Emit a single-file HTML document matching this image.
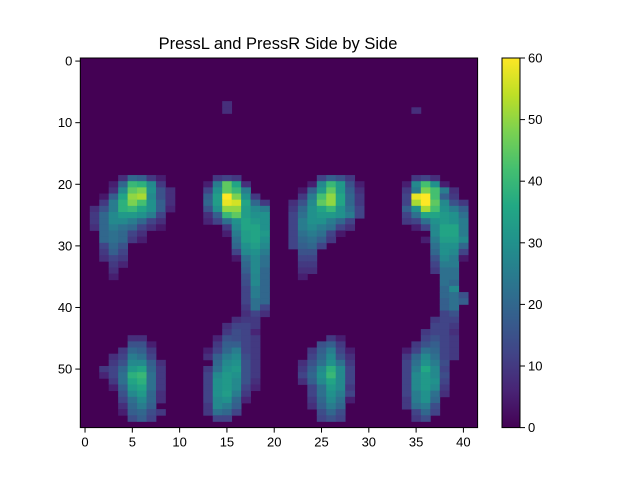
<!DOCTYPE html>
<html><head><meta charset="utf-8"><style>
body{margin:0;background:#fff;}
svg text{font-family:"Liberation Sans",sans-serif;}
</style></head><body>
<svg id="chart" width="640" height="480" viewBox="0 0 640 480" xmlns="http://www.w3.org/2000/svg">
<rect width="640" height="480" fill="#fff"/>
<text x="278" y="49" font-size="16.5" text-anchor="middle">PressL and PressR Side by Side</text>
<g id="cells"></g>
<g id="axes"></g>
<g id="cbar"></g>
</svg>
<script>
const nRows = 60;
const nCols = 42;
const vMax = 60;
const xTickValues = [0,5,10,15,20,25,30,35,40];
const yTickValues = [0,10,20,30,40,50];
const cbarTickValues = [0,10,20,30,40,50,60];
// sparse runs: [row, startCol, values]
const cellRuns = [
[7,15,[8]],[8,15,[8]],[8,35,[8]],
[19,4,[8,20,18,10,5]],[19,14,[10,12,10]],[19,25,[12,18,15,10]],[19,35,[10,12,8]],
[20,3,[5,20,40,38,28,10]],[20,13,[5,25,45,35,8]],[20,24,[5,28,40,32,15,5]],[20,34,[5,28,42,30,5]],
[21,3,[8,28,45,48,30,15,8]],[21,13,[12,30,45,40,25]],[21,23,[4,18,32,45,32,18,8]],[21,34,[10,25,48,42,25,8]],
[22,2,[4,18,35,50,52,28,15,8]],[22,13,[18,33,60,48,30,10]],[22,23,[10,25,42,50,35,20,10]],[22,34,[12,58,60,42,18,10]],
[23,2,[10,25,38,48,42,30,18,8]],[23,13,[20,33,58,56,35,20,10]],[23,22,[8,15,28,45,50,35,20,10]],[23,34,[12,52,60,45,28,15,10]],
[24,1,[8,15,25,38,40,35,30,18,6]],[24,13,[15,30,50,50,33,28,25]],[24,22,[10,20,30,35,40,30,22,12]],[24,34,[18,30,52,42,30,25,18]],
[25,1,[10,20,28,32,32,30,25,12]],[25,13,[8,18,40,45,33,30,30]],[25,22,[12,22,30,32,32,30,25,12]],[25,34,[12,22,35,35,32,30,22]],
[26,1,[10,20,28,28,25,20,12,8]],[26,13,[6,12,22,30,35,32,30]],[26,22,[12,25,30,30,25,20,12]],[26,34,[10,12,22,30,32,30,25]],
[27,1,[8,20,25,22,20,12,8,4]],[27,15,[10,28,35,35,30]],[27,22,[12,25,28,25,22,12,8]],[27,35,[5,12,28,35,35,25]],
[28,2,[20,22,20,12,8]],[28,15,[5,25,33,35,32]],[28,22,[12,22,25,22,12,4]],[28,37,[28,35,35,25]],
[29,2,[20,22,20,10,5]],[29,16,[22,33,35,30]],[29,22,[12,20,22,18,10]],[29,36,[5,25,33,33,28]],
[30,2,[12,20,15]],[30,16,[20,30,33,28]],[30,22,[12,18,20,12]],[30,37,[22,30,30,20]],
[31,2,[10,18,12]],[31,16,[12,28,30,25]],[31,23,[15,15]],[31,37,[20,30,28,12]],
[32,2,[8,12,10]],[32,16,[4,22,28,22]],[32,23,[12,12]],[32,37,[15,28,25,4]],
[33,3,[10,6]],[33,17,[20,28,22]],[33,23,[10,10]],[33,37,[12,25,25]],
[34,3,[8]],[34,17,[18,28,20]],[34,23,[8,8]],[34,37,[10,22,22]],
[35,3,[5]],[35,17,[15,27,20]],[35,23,[5]],[35,38,[22,22]],
[36,17,[14,28,20]],[36,38,[22,20]],
[37,17,[12,25,20]],[37,38,[20,28]],
[38,17,[12,25,20]],[38,38,[20,22,15]],
[39,17,[12,22,20]],[39,38,[18,22,18]],
[40,17,[10,22,12]],[40,38,[18,22]],
[41,17,[8,12,8]],[41,38,[12,15]],
[42,16,[8,10,10]],[42,37,[10,12,12]],
[43,15,[8,12,12,10]],[43,37,[12,12,10]],
[44,15,[10,14,12,6]],[44,36,[10,12,12,8]],
[45,5,[8,8]],[45,14,[6,15,14,12,10]],[45,26,[10,5]],[45,36,[12,15,12,10]],
[46,5,[15,15,5]],[46,14,[10,18,18,12,10]],[46,25,[15,18,10]],[46,35,[10,15,18,12,10]],
[47,4,[10,20,18,10]],[47,13,[5,12,20,25,12,10]],[47,24,[10,18,25,12,5]],[47,34,[5,12,22,20,12,10]],
[48,3,[8,12,25,22,12]],[48,13,[8,18,25,28,14,10]],[48,24,[12,20,28,15,8]],[48,34,[10,20,28,22,12,10]],
[49,3,[10,15,28,28,18,8]],[49,14,[20,28,30,15,10]],[49,23,[8,15,22,30,22,10]],[49,34,[12,22,30,25,14]],
[50,2,[10,12,20,32,35,20,10]],[50,13,[10,22,30,32,15,10]],[50,23,[10,18,28,38,28,12]],[50,34,[12,25,36,28,12]],
[51,2,[6,12,22,38,40,22,10]],[51,13,[12,28,32,30,15,10]],[51,23,[12,20,30,40,28,12]],[51,34,[12,28,32,28,14]],
[52,3,[10,22,35,38,22,10]],[52,13,[12,30,32,28,15,8]],[52,23,[8,18,28,35,28,12]],[52,34,[12,28,32,30,12]],
[53,3,[5,18,32,35,22,10]],[53,13,[12,30,32,28,12,6]],[53,24,[12,22,32,28,10]],[53,34,[12,28,32,28,10]],
[54,4,[15,28,32,20,8]],[54,13,[12,30,33,25,10]],[54,24,[12,22,30,25,12]],[54,34,[12,25,30,22,8]],
[55,4,[12,22,28,20,8]],[55,13,[12,28,30,20,6]],[55,24,[10,20,28,22,5]],[55,34,[10,25,30,20]],
[56,4,[8,20,25,18]],[56,13,[10,28,25,18]],[56,24,[8,18,25,20]],[56,34,[10,22,25,14]],
[57,4,[5,18,20,14,10]],[57,13,[10,22,20,12]],[57,25,[14,20,14]],[57,35,[12,20,12]],
[58,5,[14,18,12]],[58,14,[12,12]],[58,25,[12,15,12]],[58,35,[10,14]]
];

const NS = "http://www.w3.org/2000/svg";
const L = 80.3, R = 477.6, T = 58, B = 427.6;
const cw = (R - L) / nCols, ch = (B - T) / nRows;
const xPix = c => L + cw * (c + 0.5);
const yPix = r => T + ch * (r + 0.5);
const anchors = ["#440154","#482475","#414487","#355f8d","#2a788e","#21918c","#22a884","#44bf70","#7ad151","#bddf26","#fde725"];
function hex(h){return [1,3,5].map(i=>parseInt(h.substr(i,2),16));}
function viridis(v){
  let t = Math.max(0, Math.min(1, v / vMax)) * 10;
  let i = Math.min(9, Math.floor(t)), f = t - i;
  const a = hex(anchors[i]), b = hex(anchors[i+1]);
  return "rgb(" + a.map((x,k)=>Math.round(x + (b[k]-x)*f)).join(",") + ")";
}
function mk(tag, attrs, parent){
  const e = document.createElementNS(NS, tag);
  for (const k in attrs) e.setAttribute(k, attrs[k]);
  parent.appendChild(e); return e;
}
const grid = [];
for (let r = 0; r < nRows; r++) grid.push(new Array(nCols).fill(0));
cellRuns.forEach(([r, c0, vals]) => vals.forEach((v, i) => { grid[r][c0 + i] = v; }));

const cellsG = document.getElementById("cells");
const bg = mk("rect", {x:L, y:T, width:R-L, height:B-T, fill:viridis(0)}, cellsG);


for (let r = 0; r < nRows; r++) for (let c = 0; c < nCols; c++) {
  const v = grid[r][c];
  if (!v) continue;
  const el = mk("rect", {x:(xPix(c)-cw/2).toFixed(2), y:(yPix(r)-ch/2).toFixed(2), width:(cw+0.4).toFixed(2), height:(ch+0.4).toFixed(2), fill:viridis(v)}, cellsG);
  
  
}
const ax = document.getElementById("axes");
const frame = mk("rect", {x:L, y:T, width:R-L, height:B-T, fill:"none", stroke:"#000", "stroke-width":1}, ax);


xTickValues.forEach(v => {
  const x = xPix(v);
  const t = mk("line", {x1:x, x2:x, y1:B, y2:B+5, stroke:"#000"}, ax);
  
  
  const lb = mk("text", {x:x, y:B+19, "font-size":13, "text-anchor":"middle"}, ax);
  lb.textContent = v;
  
  
});
yTickValues.forEach(v => {
  const y = yPix(v);
  const t = mk("line", {x1:L-5, x2:L, y1:y, y2:y, stroke:"#000"}, ax);
  
  
  const lb = mk("text", {x:L-8, y:y+4.5, "font-size":13, "text-anchor":"end"}, ax);
  lb.textContent = v;
  
  
});
const cb = document.getElementById("cbar");
const CL = 502, CR = 520, CT = 58, CB = 427.6;
const defs = mk("defs", {}, cb);
const grad = mk("linearGradient", {id:"vg", x1:0, y1:1, x2:0, y2:0}, defs);
anchors.forEach((a,i) => mk("stop", {offset:(i/10), "stop-color":a}, grad));
const bar = mk("rect", {x:CL, y:CT, width:CR-CL, height:CB-CT, fill:"url(#vg)", stroke:"#000", "stroke-width":1}, cb);


cbarTickValues.forEach(v => {
  const y = CB - (CB-CT) * v / vMax;
  const t = mk("line", {x1:CR, x2:CR+5, y1:y, y2:y, stroke:"#000"}, cb);
  
  
  const lb = mk("text", {x:CR+8, y:y+4.5, "font-size":13}, cb);
  lb.textContent = v;
  
  
});
</script>
</body></html>
